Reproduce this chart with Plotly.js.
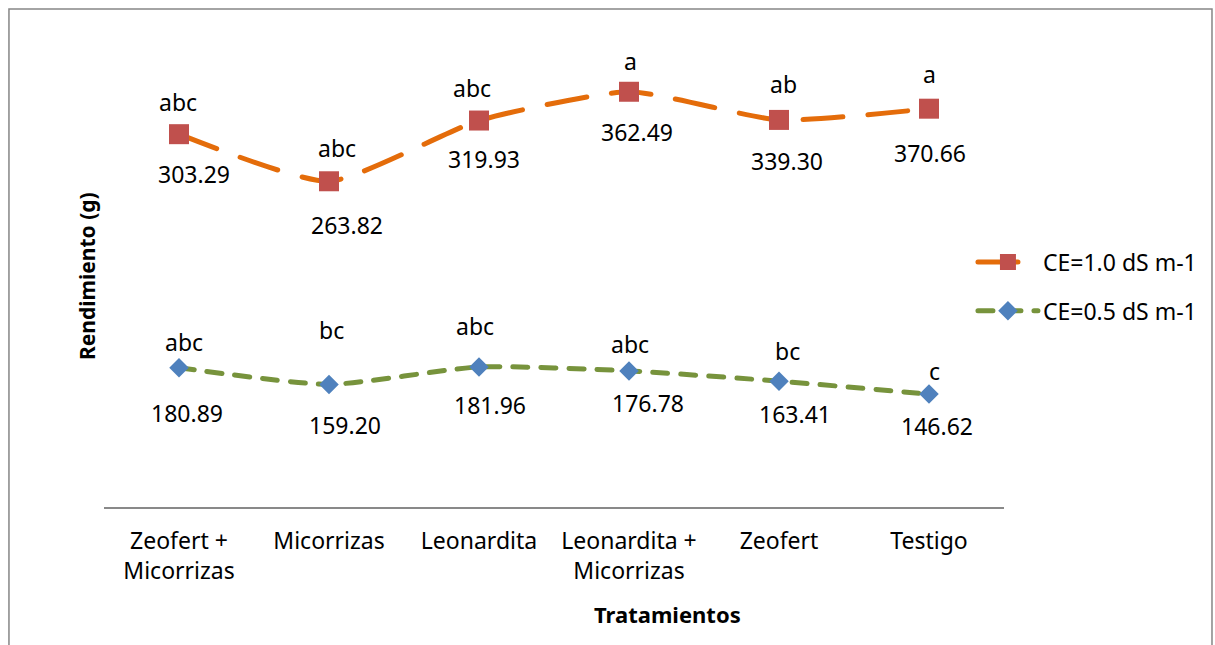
<!DOCTYPE html>
<html>
<head>
<meta charset="utf-8">
<script src="https://cdn.plot.ly/plotly-3.0.1.min.js"></script>
<style>
  html, body { margin: 0; padding: 0; background: #fff; }
  #chart { width: 1215px; height: 645px; }
  path.js-line { stroke-linecap: round; }
</style>
</head>
<body>
<div id="chart"></div>
<script>
// ---- Data ----
const categories = ['Zeofert +<br>Micorrizas', 'Micorrizas', 'Leonardita', 'Leonardita +<br>Micorrizas', 'Zeofert', 'Testigo'];
const seriesNames = ['CE=1.0 dS m-1', 'CE=0.5 dS m-1'];
const ce10 = [303.29, 263.82, 319.93, 362.49, 339.30, 370.66];
const ce05 = [180.89, 159.20, 181.96, 176.78, 163.41, 146.62];
const letters10 = ['abc', 'abc', 'abc', 'a', 'ab', 'a'];
const letters05 = ['abc', 'bc', 'abc', 'abc', 'bc', 'c'];
const xTitle = 'Tratamientos';
const yTitle = 'Rendimiento (g)';

// ---- Label placement offsets (pixels), as placed in the original ----
const letShiftX10 = [-1, 8, -7, 1, 4, 0];
const letShiftY10 = [32, 33, 33, 31, 36, 35];
const numShiftX10 = [15, 18, 5, 8, 8, 1];
const numShiftY10 = [-40, -44, -38, -40, -41, -44];
const letShiftX05 = [5, 2, -4, 1, 8, 5];
const letShiftY05 = [26, 54, 41, 27, 30, 23];
const numShiftX05 = [8, 16, 11, 19, 16, 8];
const numShiftY05 = [-45, -41, -38, -32, -33, -32];

// Stacked line chart: upper series sits on top of the lower one
const ce10Stacked = ce05.map((v, i) => v + ce10[i]);

const FONT = 'Noto Sans, Open Sans, sans-serif';

const traces = [
  {
    x: categories, y: ce10Stacked, name: seriesNames[0], type: 'scatter', mode: 'lines+markers',
    line: { color: '#E46C0A', width: 5, dash: '40px,25px', shape: 'spline', smoothing: 0.55 },
    marker: { symbol: 'square', size: 20, color: '#C0504D' },
    legendgroup: 'g1', hoverinfo: 'skip'
  },
  {
    x: categories, y: ce05, name: seriesNames[1], type: 'scatter', mode: 'lines+markers',
    line: { color: '#77933C', width: 5, dash: '15px,13px', shape: 'spline', smoothing: 0.55 },
    marker: { symbol: 'diamond', size: 15, color: '#4F81BD' },
    legendgroup: 'g2', hoverinfo: 'skip'
  }
];

const annotations = [];
function addLabels(yVals, texts, sx, sy) {
  yVals.forEach((v, i) => {
    annotations.push({
      x: categories[i], y: v, xref: 'x', yref: 'y', text: texts[i], showarrow: false,
      xshift: sx[i], yshift: sy[i], font: { family: FONT, size: 23, color: '#000' }
    });
  });
}
addLabels(ce10Stacked, letters10, letShiftX10, letShiftY10);
addLabels(ce10Stacked, ce10.map(v => v.toFixed(2)), numShiftX10, numShiftY10);
addLabels(ce05, letters05, letShiftX05, letShiftY05);
addLabels(ce05, ce05.map(v => v.toFixed(2)), numShiftX05, numShiftY05);

annotations.push({
  xref: 'paper', yref: 'paper', x: 0.6256, y: -0.2316, text: '<b>' + xTitle + '</b>',
  showarrow: false, xanchor: 'center', yanchor: 'middle',
  font: { family: FONT, size: 22, color: '#000' }
});
annotations.push({
  xref: 'paper', yref: 'paper', x: -0.0189, y: 0.5, text: '<b>' + yTitle + '</b>',
  showarrow: false, textangle: -90, xanchor: 'center', yanchor: 'middle',
  font: { family: FONT, size: 21, color: '#000' }
});

const layout = {
  width: 1215, height: 645,
  margin: { l: 104, r: 211, t: 45, b: 138, pad: 0 },
  paper_bgcolor: '#fff', plot_bgcolor: '#fff',
  font: { family: FONT, size: 23, color: '#000' },
  showlegend: true,
  legend: {
    x: 0.9655, xanchor: 'left', y: 0.577, yanchor: 'top',
    traceorder: 'grouped', tracegroupgap: 16, itemwidth: 60,
    font: { family: FONT, size: 23, color: '#000' }, bgcolor: 'rgba(0,0,0,0)'
  },
  xaxis: {
    type: 'category', range: [-0.5, 5.5], showgrid: false, zeroline: false,
    showline: true, linecolor: '#898989', linewidth: 1.5, ticks: '',
    tickfont: { family: FONT, size: 23, color: '#000' }, ticklabelstandoff: 13,
    fixedrange: true
  },
  yaxis: {
    range: [0, 600], showgrid: false, zeroline: false, showline: false,
    showticklabels: false, ticks: '', fixedrange: true
  },
  annotations: annotations,
  shapes: [{
    type: 'rect', xref: 'paper', yref: 'paper',
    x0: -0.1056, x1: 1.2311, y0: -0.32, y1: 1.0779,
    line: { color: '#868686', width: 1.5 }, fillcolor: 'rgba(0,0,0,0)', layer: 'below'
  }]
};

Plotly.newPlot('chart', traces, layout, { staticPlot: true, displayModeBar: false });
</script>
</body>
</html>
